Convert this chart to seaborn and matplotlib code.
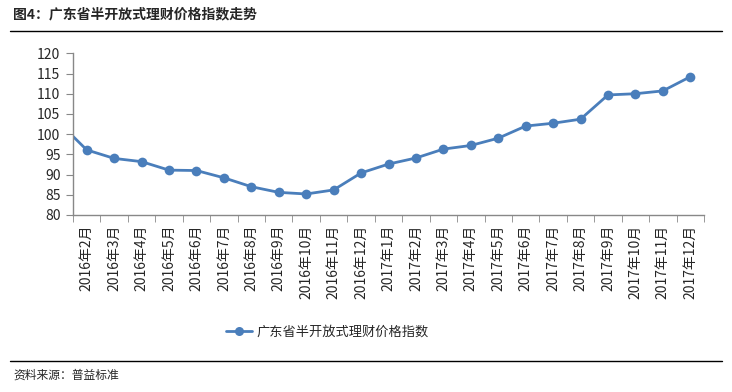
import matplotlib
matplotlib.use('Agg')
import matplotlib.pyplot as plt
from matplotlib.lines import Line2D
import seaborn as sns
import pandas as pd

# monthly index; the first value (Jan 2016) sits left of the axis and is only seen as a clipped line
months = ['2016年1月', '2016年2月', '2016年3月', '2016年4月', '2016年5月', '2016年6月', '2016年7月',
          '2016年8月', '2016年9月', '2016年10月', '2016年11月', '2016年12月',
          '2017年1月', '2017年2月', '2017年3月', '2017年4月', '2017年5月', '2017年6月',
          '2017年7月', '2017年8月', '2017年9月', '2017年10月', '2017年11月', '2017年12月']
index_values = [102.8, 96.1, 94.0, 93.2, 91.1, 91.0, 89.2, 87.0, 85.6, 85.2, 86.2, 90.4,
                92.6, 94.1, 96.3, 97.2, 99.0, 102.0, 102.7, 103.7, 109.7, 110.0, 110.7, 114.2]
series_name = '广东省半开放式理财价格指数'
y_ticks = [80, 85, 90, 95, 100, 105, 110, 115, 120]

sns.set_style('ticks')
plt.rcParams['font.family'] = ['Noto Sans CJK SC', 'DejaVu Sans']

df = pd.DataFrame({'month': months, 'value': index_values})
df['pos'] = range(-1, len(df) - 1)

blue = '#4A7EBB'
fig = plt.figure(figsize=(7.32, 3.92), dpi=100)
ax = fig.add_axes([73 / 732, 177 / 392, 631 / 732, 161.7 / 392])

sns.lineplot(data=df, x='pos', y='value', ax=ax, color=blue, linewidth=2,
             marker='o', markersize=7, markeredgewidth=0, markevery=list(range(1, len(df))))

ax.set_xlim(-0.5, len(df) - 1.5)
ax.set_ylim(80, 120)
ax.set_yticks(y_ticks)
ax.set_xticks(df['pos'][1:])
ax.set_xticklabels(df['month'][1:], rotation=90, fontsize=10)
ax.set_xticks([i - 0.5 for i in range(len(df))], minor=True)
ax.tick_params(axis='x', which='major', length=0, pad=7)
ax.tick_params(axis='x', which='minor', length=5, color='#888888', direction='out')
ax.tick_params(axis='y', length=5, color='#888888', labelsize=10, pad=4)
ax.set_xlabel('')
ax.set_ylabel('')
for s in ['top', 'right']:
    ax.spines[s].set_visible(False)
for s in ['left', 'bottom']:
    ax.spines[s].set_color('#888888')
    ax.spines[s].set_linewidth(1)

handle = Line2D([], [], color=blue, linewidth=2, marker='o', markersize=6.5, markeredgewidth=0)
fig.legend([handle], [series_name], loc='center', bbox_to_anchor=(327 / 732, 1 - 332 / 392),
           frameon=False, fontsize=9.5, handlelength=2.0, handletextpad=0.3)

fig.text(13 / 732, 1 - 14 / 392, '图4：广东省半开放式理财价格指数走势', fontsize=10,
         fontweight='bold', va='center', ha='left')
fig.add_artist(Line2D([10 / 732, 722 / 732], [1 - 31 / 392, 1 - 31 / 392], color='black', linewidth=1))
fig.add_artist(Line2D([10 / 732, 722 / 732], [1 - 361 / 392, 1 - 361 / 392], color='black', linewidth=1))
fig.text(13 / 732, 1 - 375 / 392, '资料来源：普益标准', fontsize=8.5, va='center', ha='left')

fig.savefig('out.png', dpi=100)
